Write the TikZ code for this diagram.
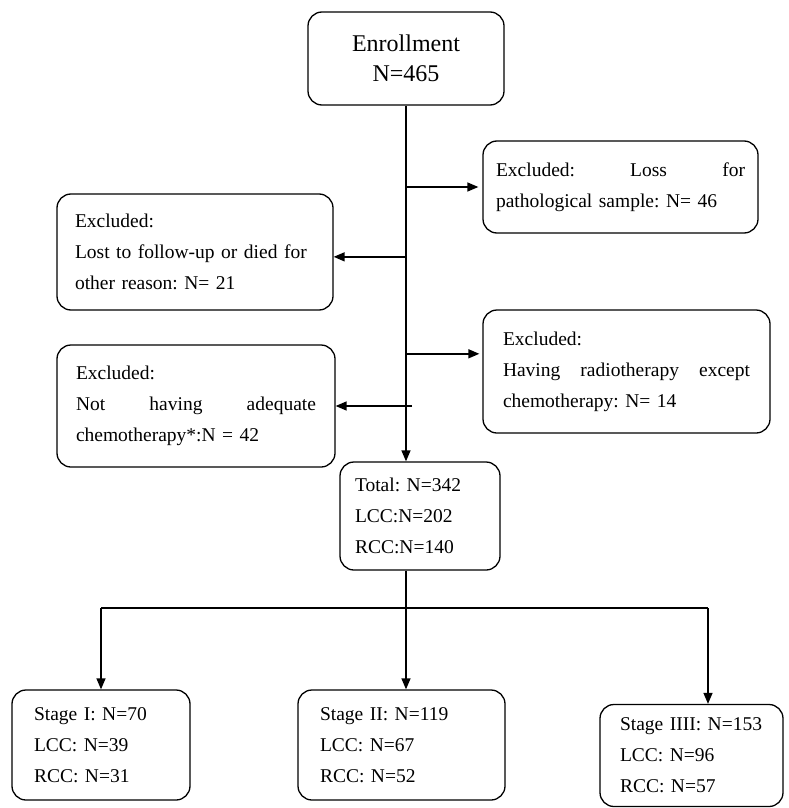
\documentclass[tikz,border=0pt]{standalone}
\usepackage{fontspec}
\setmainfont{Liberation Serif}
\frenchspacing
\usetikzlibrary{arrows.meta,positioning}

\begin{document}
\begin{tikzpicture}[x=1pt,y=-1pt,>={Triangle[length=11pt,width=9pt]},
  flowbox/.style={draw,line width=1.3pt,rounded corners=14pt,inner ysep=4pt,
    align=left,font=\fontsize{19.5}{31}\selectfont},
  link/.style={line width=1.4pt}]
  \useasboundingbox (0,0) rectangle (788,808);

  % Indskrivning
  \node[flowbox,align=center,font=\fontsize{24}{30}\selectfont,
    minimum width=196pt,minimum height=93pt] (enroll) at (406,58.5) {Enrollment\\N=465};

  % Eksklusioner
  \node[flowbox,inner xsep=13pt,text width=249pt,minimum height=92pt] (exPatho) at (620.5,187)
    {Excluded:\hfill Loss\hfill for\\pathological sample: N= 46};
  \node[flowbox,inner xsep=18pt,text width=240pt,minimum height=116pt] (exLost) at (195,252)
    {Excluded:\\\mbox{Lost to follow-up or died for}\\other reason: N= 21};
  \node[flowbox,inner xsep=20pt,text width=247pt,minimum height=123pt] (exRadio) at (626.5,371.5)
    {Excluded:\\Having\hfill radiotherapy\hfill except\\chemotherapy: N= 14};
  \node[flowbox,inner xsep=19pt,text width=240pt,minimum height=122pt] (exChemo) at (196,406)
    {Excluded:\\Not\hfill having\hfill adequate\\chemotherapy*:N = 42};

  % Samlet
  \node[flowbox,inner xsep=15pt,text width=130pt,minimum height=108pt] (total) at (420,516)
    {Total: N=342\\LCC:N=202\\RCC:N=140};

  % Stadier
  \node[flowbox,inner xsep=22pt,text width=134pt,minimum height=110pt] (stageI) at (101,745)
    {Stage I: N=70\\LCC: N=39\\RCC: N=31};
  \node[flowbox,inner xsep=22pt,text width=163pt,minimum height=110pt] (stageII) at (401.5,745)
    {Stage II: N=119\\LCC: N=67\\RCC: N=52};
  \node[flowbox,inner xsep=20pt,text width=143pt,minimum height=102pt] (stageIII) at (691.5,755.5)
    {\mbox{Stage IIII: N=153}\\LCC: N=96\\RCC: N=57};

  % Pile
  \draw[link,->] (enroll.south) -- (enroll.south |- total.north);
  \draw[link,->,shorten >=4pt] (enroll.south |- exPatho.west) -- (exPatho.west);
  \draw[link,->] (enroll.south |- exLost.-2) -- (exLost.-2);
  \draw[link,->,shorten >=3pt] (enroll.south |- exRadio.173) -- (exRadio.173);
  \draw[link,->] ([xshift=6pt]enroll.south |- exChemo.east) -- (exChemo.east);

  % Forgrening
  \coordinate (split) at (406,608);
  \coordinate (armIII) at (708,608);
  \draw[link] (enroll.south |- total.south) -- (split);
  \draw[link] (split -| stageI.north) -- (armIII);
  \draw[link,->] (split -| stageI.north) -- (stageI.north);
  \draw[link,->] (split) -- (split |- stageII.north);
  \draw[link,->] (armIII) -- (armIII |- stageIII.north);
\end{tikzpicture}
\end{document}
